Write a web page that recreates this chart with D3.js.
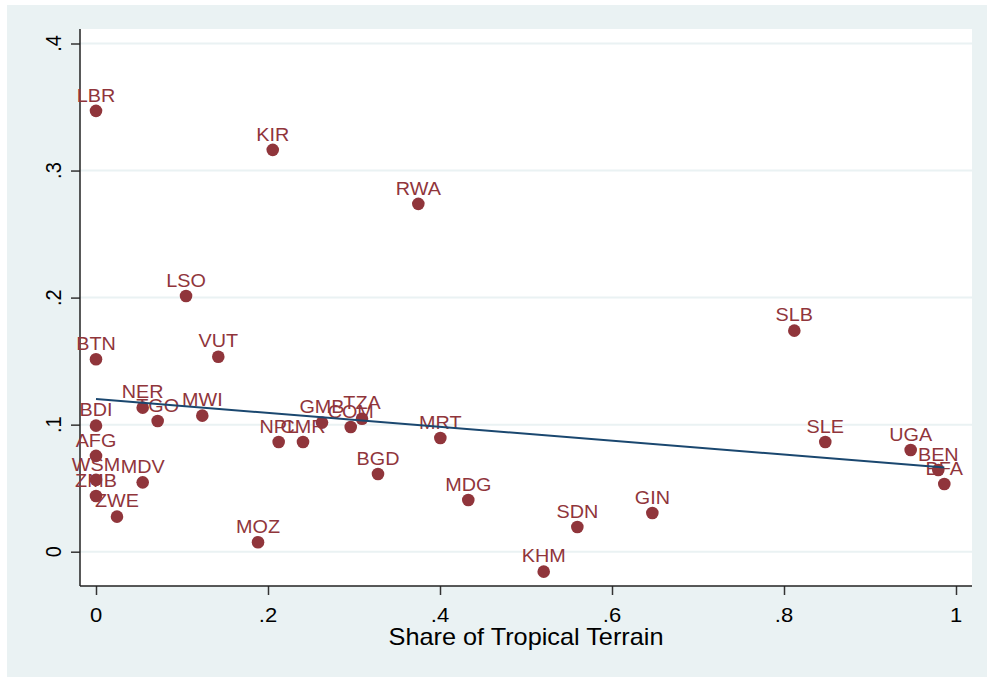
<!DOCTYPE html>
<html><head><meta charset="utf-8">
<script src="https://cdn.jsdelivr.net/npm/d3@7"></script>
<style>html,body{margin:0;padding:0;background:#fff;}svg{display:block;}</style>
</head><body>
<svg id="chart" width="987" height="677"></svg>
<script>
const countries = ["LBR","KIR","RWA","LSO","BTN","VUT","SLB","NER","TGO","MWI","BDI","GMB","COM","TZA","NPL","CMR","MRT","AFG","WSM","ZMB","MDV","ZWE","BGD","MDG","MOZ","SDN","GIN","KHM","SLE","UGA","BEN","BFA"];
const tropicalShare = [0,0.2055,0.3748,0.1047,0,0.1422,0.812,0.0543,0.0717,0.1236,0,0.2628,0.2962,0.3093,0.2124,0.2407,0.4004,0,0,0,0.0543,0.0244,0.3279,0.4329,0.1884,0.5597,0.6469,0.5206,0.848,0.9473,0.9794,0.9864];
const outcome = [0.347,0.3163,0.2738,0.2013,0.1515,0.1535,0.174,0.1134,0.1029,0.1071,0.0992,0.1016,0.0982,0.1047,0.0864,0.0864,0.0895,0.0754,0.0565,0.0439,0.0546,0.0276,0.0612,0.0407,0.0074,0.0194,0.0305,-0.0157,0.0864,0.0801,0.0643,0.0533];
const fitX = [0, 0.9864];
const fitY = [0.1202, 0.0662];
const xTicks = [0,0.2,0.4,0.6,0.8,1];
const xTickLabels = ["0",".2",".4",".6",".8","1"];
const yTicks = [0,0.1,0.2,0.3,0.4];
const yTickLabels = ["0",".1",".2",".3",".4"];
const xTitle = "Share of Tropical Terrain";

const svg = d3.select("#chart");
const font = "'Liberation Sans', Arial, Helvetica, sans-serif";
const maroon = "#90353b", navy = "#1a476f", bg = "#eaf2f3";
const plot = {l:80, r:972, t:29, b:586};
const x = d3.scaleLinear().domain([0,1]).range([96,956]);
const y = d3.scaleLinear().domain([0,0.4]).range([551.7,43.5]);
const sx = 1.1;

svg.append("rect").attr("x",7).attr("y",5).attr("width",980).attr("height",672).attr("fill",bg);
svg.append("rect").attr("x",plot.l).attr("y",plot.t).attr("width",plot.r-plot.l).attr("height",plot.b-plot.t).attr("fill","#fff");

// gridlines
svg.append("g").selectAll("line").data(yTicks).join("line")
  .attr("x1",plot.l).attr("x2",plot.r).attr("y1",d=>y(d)).attr("y2",d=>y(d))
  .attr("stroke",bg).attr("stroke-width",2);

// axes
const yAxis = d3.axisLeft(y).tickValues(yTicks).tickSize(9).tickFormat("");
const gy = svg.append("g").attr("transform",`translate(${plot.l},0)`).call(yAxis);
gy.select(".domain").remove();
gy.selectAll(".tick line").attr("stroke","#333").attr("stroke-width",1.5);
const xAxis = d3.axisBottom(x).tickValues(xTicks).tickSize(9).tickFormat("");
const gx = svg.append("g").attr("transform",`translate(0,${plot.b})`).call(xAxis);
gx.select(".domain").remove();
gx.selectAll(".tick line").attr("stroke","#333").attr("stroke-width",1.5);
svg.append("line").attr("x1",plot.l).attr("x2",plot.l).attr("y1",plot.t).attr("y2",plot.b).attr("stroke","#222").attr("stroke-width",1.5);
svg.append("line").attr("x1",plot.l).attr("x2",plot.r).attr("y1",plot.b).attr("y2",plot.b).attr("stroke","#222").attr("stroke-width",1.5);

// tick labels
svg.append("g").selectAll("text").data(yTicks).join("text")
  .attr("transform",(d)=>`translate(61,${y(d)}) scale(${sx},1) rotate(-90)`)
  .attr("text-anchor","middle").attr("font-family",font).attr("font-size",20).attr("fill","#000")
  .text((d,i)=>yTickLabels[i]);
svg.append("g").selectAll("text").data(xTicks).join("text")
  .attr("transform",(d)=>`translate(${x(d)},622.3) scale(${sx},1)`)
  .attr("text-anchor","middle").attr("font-family",font).attr("font-size",20).attr("fill","#000")
  .text((d,i)=>xTickLabels[i]);
svg.append("text").attr("transform",`translate(${(plot.l+plot.r)/2},644.5) scale(${sx},1)`)
  .attr("text-anchor","middle").attr("font-family",font).attr("font-size",23).attr("fill","#000").text(xTitle);

// data
const pts = countries.map((c,i)=>({c, xv:tropicalShare[i], yv:outcome[i]}));
svg.append("g").selectAll("circle").data(pts).join("circle")
  .attr("cx",d=>x(d.xv)).attr("cy",d=>y(d.yv)).attr("r",6.3).attr("fill",maroon);
svg.append("g").selectAll("text").data(pts).join("text")
  .attr("transform",d=>`translate(${x(d.xv)},${y(d.yv)-9.3}) scale(${sx},1)`)
  .attr("text-anchor","middle").attr("font-family",font).attr("font-size",18).attr("fill",maroon)
  .text(d=>d.c);

// fit line
const line = d3.line().x(d=>x(d[0])).y(d=>y(d[1]));
svg.append("path").datum(fitX.map((v,i)=>[v,fitY[i]])).attr("d",line)
  .attr("fill","none").attr("stroke",navy).attr("stroke-width",2);
</script>
</body></html>
